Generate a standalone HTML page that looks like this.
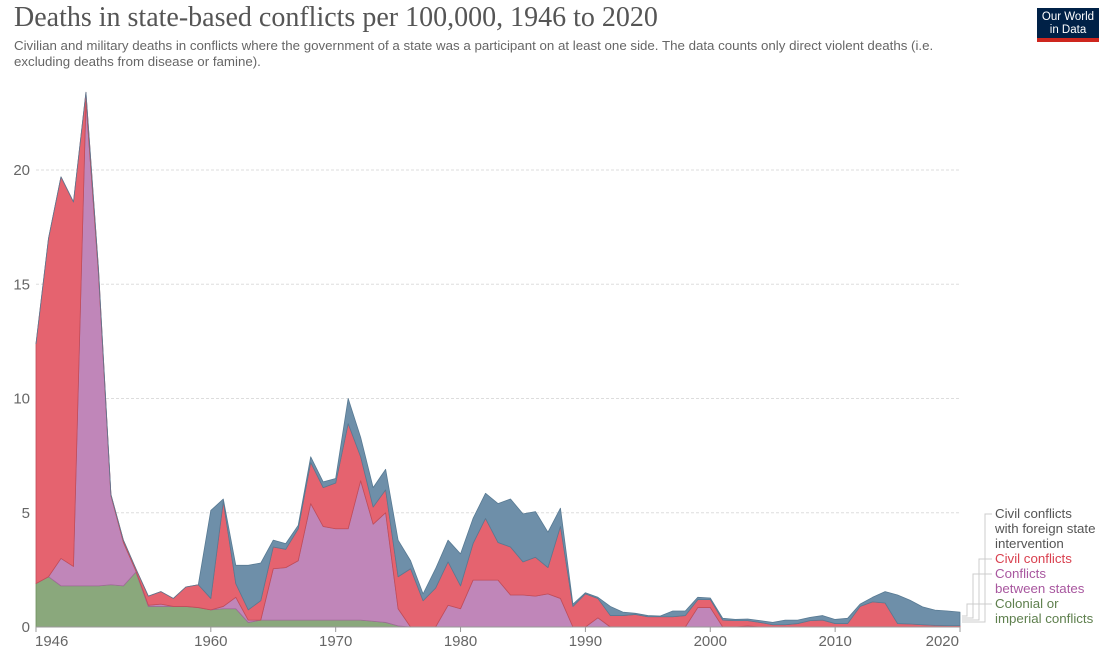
<!DOCTYPE html>
<html><head><meta charset="utf-8">
<style>
body{margin:0;background:#fff;width:1113px;height:649px;overflow:hidden;font-family:"Liberation Sans",sans-serif;}
#title{position:absolute;left:14px;top:2px;font-family:"Liberation Serif",serif;font-size:28px;color:#555;white-space:nowrap;}
#sub{position:absolute;left:14px;top:38px;font-size:13.3px;color:#666;line-height:16px;width:975px;}
#logo{position:absolute;left:1037px;top:8px;width:62px;height:34px;background:#002147;color:#fff;font-size:11.5px;line-height:13px;text-align:center;border-bottom:4px solid #ce261e;box-sizing:border-box;padding-top:3px;}
svg{position:absolute;left:0;top:0;}
</style></head><body>
<div id="title">Deaths in state-based conflicts per 100,000, 1946 to 2020</div>
<div id="sub">Civilian and military deaths in conflicts where the government of a state was a participant on at least one side. The data counts only direct violent deaths (i.e. excluding deaths from disease or famine).</div>
<div id="logo">Our World<br>in Data</div>
<svg id="chart" width="1113" height="649"></svg>
<script>
const startYear = 1946;
const colonial = [1.9,2.2,1.8,1.8,1.8,1.8,1.85,1.8,2.4,0.9,0.9,0.9,0.9,0.85,0.75,0.8,0.8,0.2,0.3,0.3,0.3,0.3,0.3,0.3,0.3,0.3,0.3,0.25,0.2,0.05,0,0,0,0,0,0,0,0,0,0,0,0,0,0,0,0,0,0,0,0,0,0,0,0,0,0,0,0,0,0,0,0,0,0,0,0,0,0,0,0,0,0,0,0,0];
const interstate = [0,0,1.2,0.85,21.2,13.7,3.9,1.9,0.05,0.05,0.1,0,0,0,0,0.1,0.5,0.1,0,2.25,2.3,2.6,5.1,4.1,4.0,4.0,6.1,4.25,4.8,0.75,0,0,0,0.95,0.8,2.05,2.05,2.05,1.4,1.4,1.35,1.45,1.25,0,0,0.4,0,0,0,0,0,0,0,0.85,0.85,0,0,0.05,0,0,0,0,0,0,0,0,0,0,0,0,0,0,0,0,0];
const civil = [10.5,14.8,16.7,15.95,0.4,0.2,0.05,0.1,0.1,0.4,0.55,0.35,0.85,1.0,0.5,4.6,0.6,0.45,0.85,0.95,0.8,1.4,1.8,1.7,2.0,4.6,1.05,0.75,1.0,1.4,2.55,1.15,1.7,1.9,1.0,1.6,2.7,1.65,2.1,1.45,1.7,1.15,3.15,0.9,1.45,0.85,0.5,0.5,0.55,0.45,0.45,0.45,0.5,0.35,0.35,0.3,0.28,0.23,0.2,0.1,0.1,0.15,0.28,0.3,0.15,0.15,0.9,1.1,1.05,0.15,0.13,0.1,0.07,0.06,0.06];
const civilForeign = [0,0,0,0,0,0,0,0,0,0,0,0,0,0,3.85,0.1,0.8,1.95,1.65,0.3,0.25,0.15,0.25,0.25,0.2,1.1,0.85,0.85,0.9,1.6,0.35,0.3,0.85,0.95,1.4,1.1,1.1,1.7,2.1,2.1,2.0,1.55,0.8,0.1,0.05,0.05,0.4,0.15,0.05,0.05,0.03,0.25,0.2,0.1,0.07,0.08,0.05,0.07,0.08,0.1,0.2,0.15,0.14,0.2,0.18,0.23,0.1,0.2,0.5,1.25,1.04,0.78,0.67,0.64,0.59];
const yTicks = [0,5,10,15,20];
const xTicks = [1946,1960,1970,1980,1990,2000,2010,2020];

const NS="http://www.w3.org/2000/svg";
const svg=document.getElementById('chart');
const X0=36,X1=960,Y0=627,PPU=22.85;
const lastYear=startYear+colonial.length-1;
const xs=y=>X0+(y-startYear)*(X1-X0)/(lastYear-startYear);
const ys=v=>Y0-v*PPU;
function mk(t,a){const e=document.createElementNS(NS,t);for(const k in a)e.setAttribute(k,a[k]);svg.appendChild(e);return e;}
yTicks.forEach(v=>{
  if(v>0){const g=mk('line',{x1:X0,x2:X1,y1:ys(v),y2:ys(v),stroke:'#ddd','stroke-dasharray':'3,2'});
  
  }
  const t=mk('text',{x:30,y:ys(v)+5,'text-anchor':'end','font-size':15,fill:'#666','font-family':'Liberation Sans, sans-serif'});
  t.textContent=v;
  
  
});
const series=[[colonial,'#8aa87c','#6f8f60','colonial'],[interstate,'#c086b9','#a06a99','interstate'],[civil,'#e5636f','#c24c58','civil'],[civilForeign,'#6e8fa9','#587a93','civil-foreign']];
let base=colonial.map(()=>0);
series.forEach(([arr,fill,stroke,name])=>{
  const top=arr.map((v,i)=>base[i]+v);
  let d='M'+xs(startYear)+','+ys(top[0]);
  top.forEach((v,i)=>{d+=' L'+xs(startYear+i)+','+ys(v);});
  for(let i=base.length-1;i>=0;i--)d+=' L'+xs(startYear+i)+','+ys(base[i]);
  d+='Z';
  const p=mk('path',{d:d,fill:fill,stroke:stroke,'stroke-width':0.8,'stroke-linejoin':'round'});
  
  
  base=top;
});
mk('line',{x1:X0,x2:X1,y1:Y0,y2:Y0,stroke:'#999'});
xTicks.forEach((yr,i)=>{
  const x=xs(yr);
  mk('line',{x1:x,x2:x,y1:Y0,y2:Y0+5,stroke:'#999'});
  const anchor=i==0?'start':(i==xTicks.length-1?'end':'middle');
  const t=mk('text',{x:i==0?x-1:(i==xTicks.length-1?x-1:x),y:646,'text-anchor':anchor,'font-size':15,fill:'#666','font-family':'Liberation Sans, sans-serif'});
  t.textContent=yr;
  
  
});
const legend=[
 [['Civil conflicts','with foreign state','intervention'],'#555',514,'legend-civil-foreign'],
 [['Civil conflicts'],'#d9404f',559,'legend-civil'],
 [['Conflicts','between states'],'#a8579f',574,'legend-interstate'],
 [['Colonial or','imperial conflicts'],'#5e7f4d',604,'legend-colonial']];
const connX=[985,979,973,967];
legend.forEach(([lines,col,y0,nm],k)=>{
  lines.forEach((s,j)=>{
    const t=mk('text',{x:995,y:y0+j*15+4,'font-size':13.3,fill:col,'font-family':'Liberation Sans, sans-serif'});
    t.textContent=s;
    
    
  });
  const cx=connX[k], ly=y0;
  mk('polyline',{points:`962,${622-k*2} ${cx},${622-k*2} ${cx},${ly} 992,${ly}`,fill:'none',stroke:'#ccc','stroke-width':1});
});
</script>
</body></html>
